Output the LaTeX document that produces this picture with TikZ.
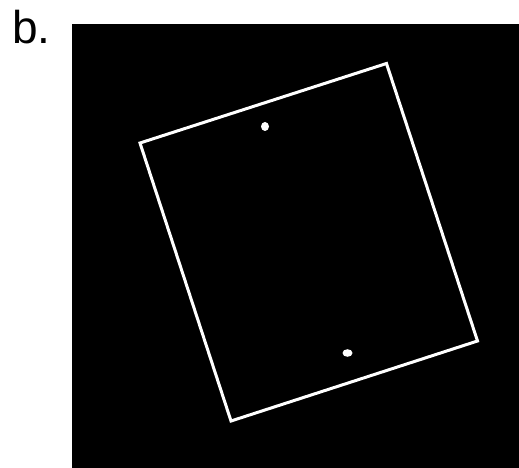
\documentclass[tikz,border=0pt]{standalone}
\usepackage{fontspec}
\setmainfont{Liberation Sans}
\begin{document}
\begin{tikzpicture}[x=1pt,y=-1pt,
  frame/.style={draw=white,line width=3pt,line join=miter},
  spot/.style={fill=white,draw=none}]
\useasboundingbox (0,0) rectangle (519,468);
\fill[white] (0,0) rectangle (519,468);
\fill[black] (72,24.5) rectangle (519,468);
\node[anchor=base west,inner sep=0pt,font=\fontsize{46}{46}\selectfont] (lbl) at (12,44) {b.};
\coordinate (c1) at (140,143);
\coordinate (c2) at (386.5,63.5);
\coordinate (c3) at (477.5,341);
\coordinate (c4) at (231,421);
\draw[frame] (c1) -- (c2) -- (c3) -- (c4) -- cycle;
\fill[spot] (265,126.5) ellipse (4pt and 4.5pt);
\fill[spot] (347.5,353) ellipse (5pt and 3.8pt);
\end{tikzpicture}
\end{document}
